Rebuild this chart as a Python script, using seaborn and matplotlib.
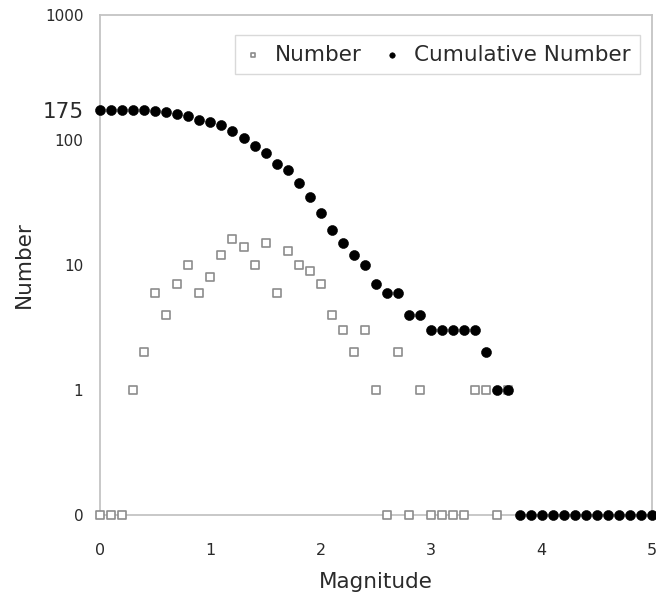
import numpy as np
import pandas as pd
import matplotlib
matplotlib.use("Agg")
import matplotlib.pyplot as plt
import seaborn as sns
from matplotlib.ticker import NullLocator

# ---- data ----
magnitude = [round(0.1 * i, 1) for i in range(51)]  # 0.0 .. 5.0
number = [0, 0, 0, 1, 2, 6, 4, 7, 10, 6,
          8, 12, 16, 14, 10, 15, 6, 13, 10, 9,
          7, 4, 3, 2, 3, 1, 0, 2, 0, 1,
          0, 0, 0, 0, 1, 1, 0, 1]              # 0.0 .. 3.7
cumulative = [175, 175, 175, 175, 174, 172, 166, 162, 155, 145,
              139, 131, 119, 103, 89, 79, 64, 58, 45, 35,
              26, 19, 15, 12, 10, 7, 6, 6, 4, 4,
              3, 3, 3, 3, 3, 2, 1, 1, 0, 0,
              0, 0, 0, 0, 0, 0, 0, 0, 0, 0, 0]  # 0.0 .. 5.0
ytick_vals = [0.1, 1, 10, 100, 175, 1000]
ytick_labels = ["0", "1", "10", "100", "175", "1000"]
xtick_vals = [0, 1, 2, 3, 4, 5]
zero_level = 0.1  # zero counts are shown on the "0" line of the log axis

df_num = pd.DataFrame({"Magnitude": magnitude[:len(number)],
                       "Number": np.where(np.array(number) == 0, zero_level, number)})
df_cum = pd.DataFrame({"Magnitude": magnitude,
                       "Number": np.where(np.array(cumulative) == 0, zero_level, cumulative)})

sns.set_style("white")
plt.rcParams["font.family"] = ["DejaVu Sans"]

fig = plt.figure(figsize=(6.56, 6.05), dpi=100)
ax = fig.add_axes([100 / 656, 1 - 515 / 605, 552 / 656, 500 / 605])

sns.scatterplot(data=df_num, x="Magnitude", y="Number", ax=ax, marker="s",
                s=27, facecolor="white", edgecolor="#8c8c8c", linewidth=1.2,
                clip_on=False, zorder=3, label="Number")
sns.scatterplot(data=df_cum, x="Magnitude", y="Number", ax=ax, marker="o",
                s=52, color="black", edgecolor="black", linewidth=0.4,
                clip_on=False, zorder=4, label="Cumulative Number")

ax.set_yscale("log")
ax.set_ylim(0.1, 1000)
ax.set_xlim(0, 5)
ax.yaxis.set_minor_locator(NullLocator())
ax.set_yticks(ytick_vals)
ax.set_yticklabels(ytick_labels)
ax.set_xticks(xtick_vals)
ax.set_xticklabels([str(v) for v in xtick_vals])

for lbl, val in zip(ax.get_yticklabels(), ytick_vals):
    lbl.set_fontsize(15.5 if val == 175 else 11)
    lbl.set_color("#2a2a2a")
for lbl in ax.get_xticklabels():
    lbl.set_fontsize(11.5)
    lbl.set_color("#2a2a2a")

ax.tick_params(axis="y", length=0, pad=12)
ax.tick_params(axis="x", length=4, direction="in", color="#c8c8c8", pad=20)

for side in ["left", "bottom", "top", "right"]:
    ax.spines[side].set_color("#c4c4c4")
    ax.spines[side].set_linewidth(1.3)
    ax.spines[side].set_visible(True)

ax.set_xlabel("Magnitude", fontsize=15.5, color="#2a2a2a", labelpad=10)
ax.set_ylabel("Number", fontsize=15.5, color="#2a2a2a", labelpad=6)

leg = ax.legend(loc="upper right", bbox_to_anchor=(0.978, 0.96), ncol=2,
                frameon=True, fancybox=False, fontsize=15.5, markerscale=0.55,
                handletextpad=0.6, columnspacing=1.0, borderpad=0.45,
                handlelength=0.8, borderaxespad=0.0)
leg.get_frame().set_edgecolor("#d0d0d0")
leg.get_frame().set_linewidth(1.0)
for t in leg.get_texts():
    t.set_color("#2a2a2a")

fig.savefig("out.png", dpi=100)
